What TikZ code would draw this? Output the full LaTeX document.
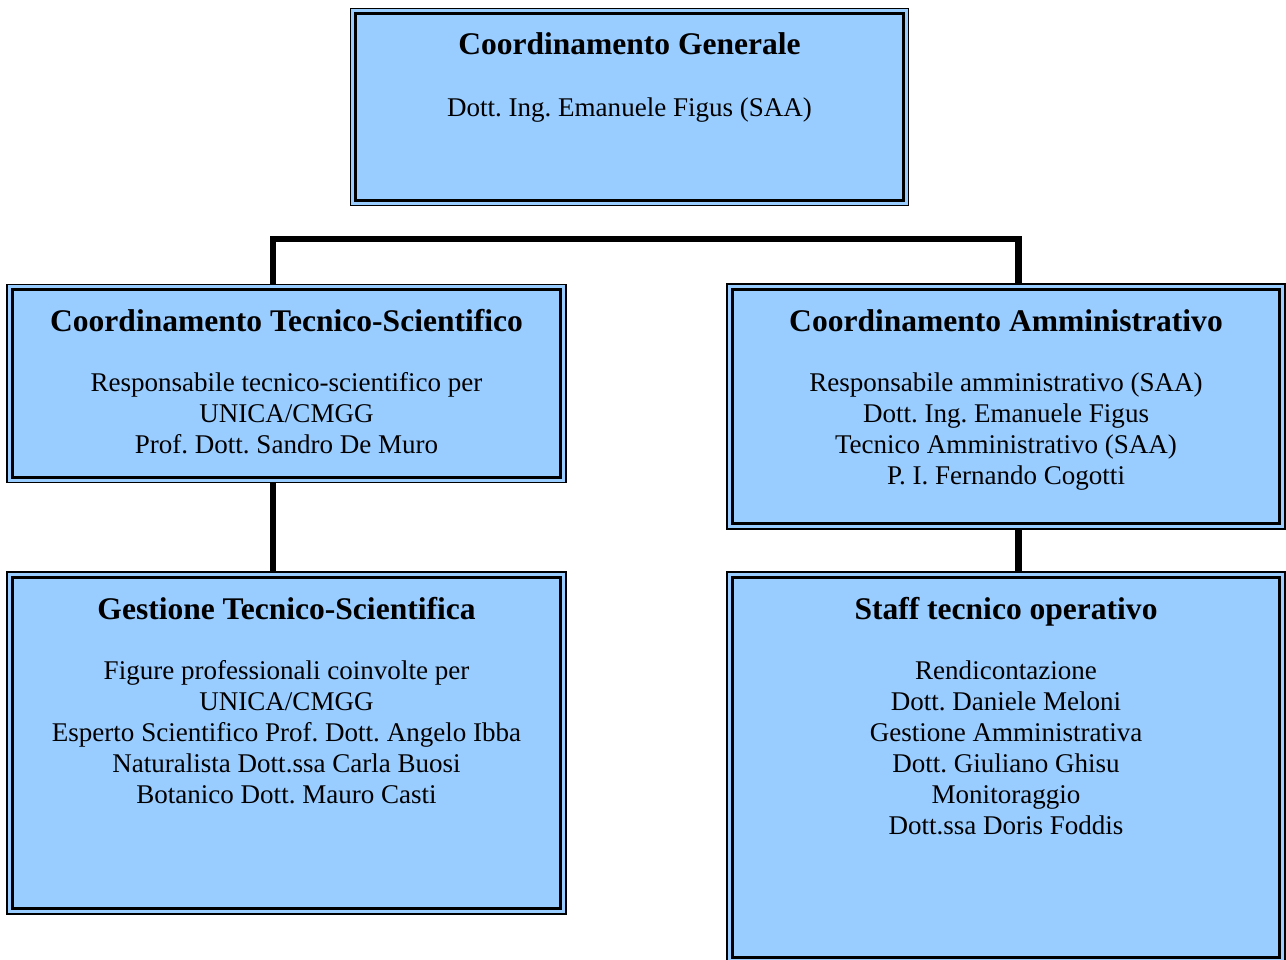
\documentclass[tikz,border=0pt]{standalone}
\usepackage{fontspec}
\setmainfont{Liberation Serif}
\frenchspacing
\usetikzlibrary{positioning,calc}
\definecolor{BoxBlue}{HTML}{99CCFF}
\tikzset{%
  link/.style={line width=2.7pt},
  unit/.style={draw, fill=BoxBlue, line width=0.8pt, inner sep=0pt},
  inner frame/.style={line width=1.4pt},
  head/.style={anchor=base, font=\fontsize{14}{16}\selectfont\bfseries},
  body/.style={anchor=base, align=center, inner sep=0pt, font=\fontsize{12}{13.8}\selectfont}
}
\begin{document}
\begin{tikzpicture}[x=0.444pt, y=-0.444pt]
 \useasboundingbox (0,0) rectangle (1286,959);

 % boxes
 \node[unit, minimum width=558*0.444pt, minimum height=197*0.444pt] (top) at (629.5,107) {};
 \node[unit, minimum width=559*0.444pt, minimum height=198*0.444pt] (tec) at (286.5,383.5) {};
 \node[unit, minimum width=558*0.444pt, minimum height=245*0.444pt] (amm) at (1006,406.5) {};
 \node[unit, minimum width=559*0.444pt, minimum height=342*0.444pt] (ges) at (286.5,743) {};
 \node[unit, minimum width=558*0.444pt, minimum height=391*0.444pt] (sta) at (1006,767.5) {};

 \foreach \b in {top,tec,amm,ges,sta}
   \draw[inner frame] ([shift={(2.8pt,-2.8pt)}]\b.north west) rectangle ([shift={(-2.8pt,2.8pt)}]\b.south east);

 % texts (body nodes sit on the baseline of their last line)
 \node[head] (topT) at ([yshift=-21pt]top.north) {Coordinamento Generale};
 \node[body] (topB) at ([yshift=-48.3pt]top.north) {Dott. Ing. Emanuele Figus (SAA)};

 \node[head] (tecT) at ([yshift=-21.3pt]tec.north) {Coordinamento Tecnico-Scientifico};
 \node[body] (tecB) at ([yshift=-75.5pt]tec.north) {Responsabile tecnico-scientifico per\\UNICA/CMGG\\Prof. Dott. Sandro De Muro};

 \node[head] (ammT) at ([yshift=-21.3pt]amm.north) {Coordinamento Amministrativo};
 \node[body] (ammB) at ([yshift=-89.3pt]amm.north) {Responsabile amministrativo (SAA)\\Dott. Ing. Emanuele Figus\\Tecnico Amministrativo (SAA)\\P. I. Fernando Cogotti};

 \node[head] (gesT) at ([yshift=-21.3pt]ges.north) {Gestione Tecnico-Scientifica};
 \node[body] (gesB) at ([yshift=-103.1pt]ges.north) {Figure professionali coinvolte per\\UNICA/CMGG\\Esperto Scientifico Prof. Dott. Angelo Ibba\\Naturalista Dott.ssa Carla Buosi\\Botanico Dott. Mauro Casti};

 \node[head] (staT) at ([yshift=-21.3pt]sta.north) {Staff tecnico operativo};
 \node[body] (staB) at ([yshift=-116.9pt]sta.north) {Rendicontazione\\Dott. Daniele Meloni\\Gestione Amministrativa\\Dott. Giuliano Ghisu\\Monitoraggio\\Dott.ssa Doris Foddis};

 % connectors
 \coordinate (busL) at (273,239);
 \coordinate (busR) at (1018.5,239);
 \draw[link] (tec.north -| busL) -- (busL) -- (busR) -- (amm.north -| busR);
 \draw[link] (tec.south -| busL) -- (ges.north -| busL);
 \draw[link] (amm.south -| busR) -- (sta.north -| busR);

\end{tikzpicture}
\end{document}
